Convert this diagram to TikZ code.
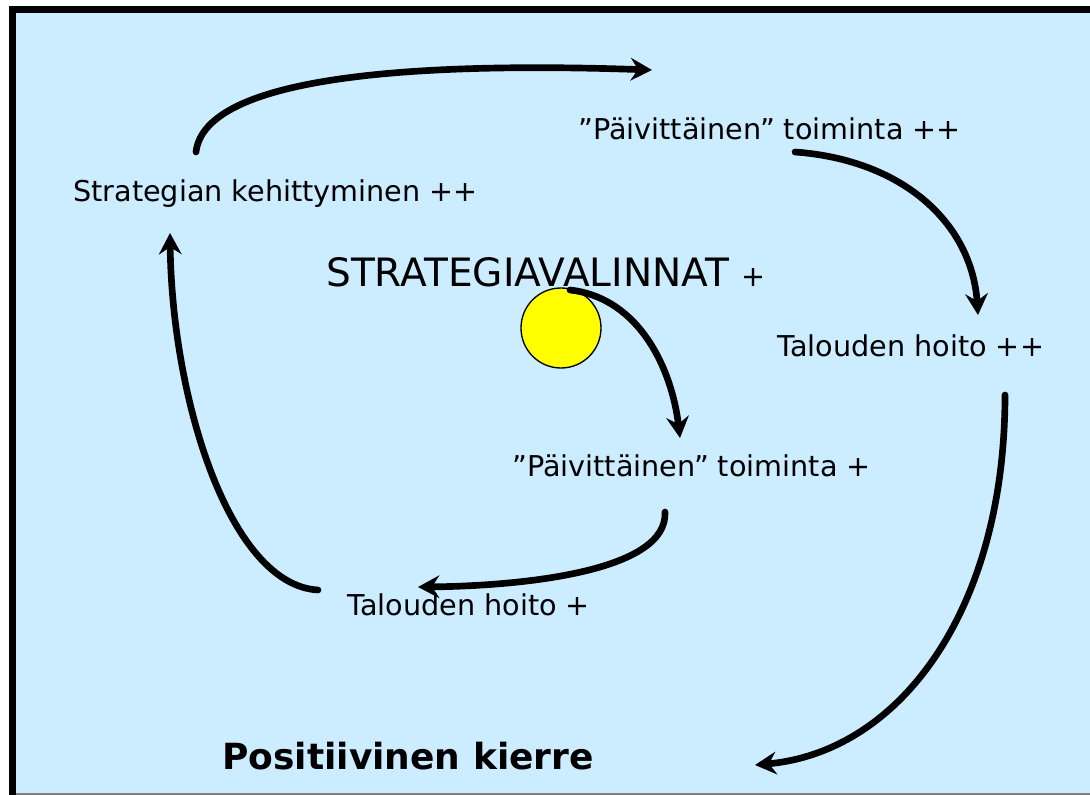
\documentclass[tikz,border=0pt]{standalone}
\usepackage{fontspec}
\setmainfont{DejaVu Sans}
\usetikzlibrary{arrows.meta}
\definecolor{slidebg}{RGB}{204,236,255}
\definecolor{sunfill}{RGB}{255,255,0}

\begin{document}
\begin{tikzpicture}[
  x=0.75pt, y=-0.75pt,
  >={Stealth[length=16pt, width=17pt, inset=5.5pt]},
  lbl/.style={inner sep=0pt, anchor=west, font=\fontsize{21.5}{24}\selectfont},
  arr/.style={->, line width=5pt, line cap=round}
]
  \useasboundingbox (0,0) rectangle (1090,795);
  % slide background and frame
  \fill[white] (0,0) rectangle (1090,795);
  \fill[slidebg] (9,6) rectangle (1090,793);
  \fill[black] (9,6) rectangle (1090,13);
  \fill[black] (9,6) rectangle (16,795);
  \draw[gray, line width=1pt] (16,794) -- (1090,794);

  % labels
  \node[lbl] (strat) at (73,194) {Strategian kehittyminen ++};
  \node[lbl] (daily2) at (578,129) {”Päivittäinen” toiminta ++};
  \node[lbl] (econ2) at (777,346) {Talouden hoito ++};
  \node[lbl] (daily1) at (512,466) {”Päivittäinen” toiminta +};
  \node[lbl] (econ1) at (347,605) {Talouden hoito +};
  \node[lbl, font=\fontsize{29.3}{32}\selectfont] (choice) at (326,272) {STRATEGIAVALINNAT \fontsize{21.5}{24}\selectfont+};
  \node[lbl, font=\fontsize{27}{30}\selectfont\bfseries] (title) at (222,756) {Positiivinen kierre};
  \node[circle, draw=black, line width=1pt, fill=sunfill, minimum size=60pt, inner sep=0pt] (sun) at (561,328) {};

  % connector ends
  \coordinate (s1) at (196,152);   \coordinate (e1) at (652,70);
  \coordinate (s2) at (795,152);   \coordinate (e2) at (978,315);
  \coordinate (s3) at (1005,395);  \coordinate (e3) at (755,765);
  \coordinate (s4) at (570,290);   \coordinate (e4) at (680,438);
  \coordinate (s5) at (665,512);   \coordinate (e5) at (418,587);
  \coordinate (s6) at (318,590);   \coordinate (e6) at (170,233);

  % loop arrows
  \draw[arr] (s1) .. controls (205,75) and (420,62) .. (e1);
  \draw[arr] (s2) .. controls (905,160) and (972,225) .. (e2);
  \draw[arr] (s3) .. controls (1005,610) and (900,752) .. (e3);
  \draw[arr] (s4) .. controls (640,298) and (672,370) .. (e4);
  \draw[arr] (s5) .. controls (668,572) and (520,586) .. (e5);
  \draw[arr] (s6) .. controls (230,585) and (172,400) .. (e6);
\end{tikzpicture}
\end{document}
